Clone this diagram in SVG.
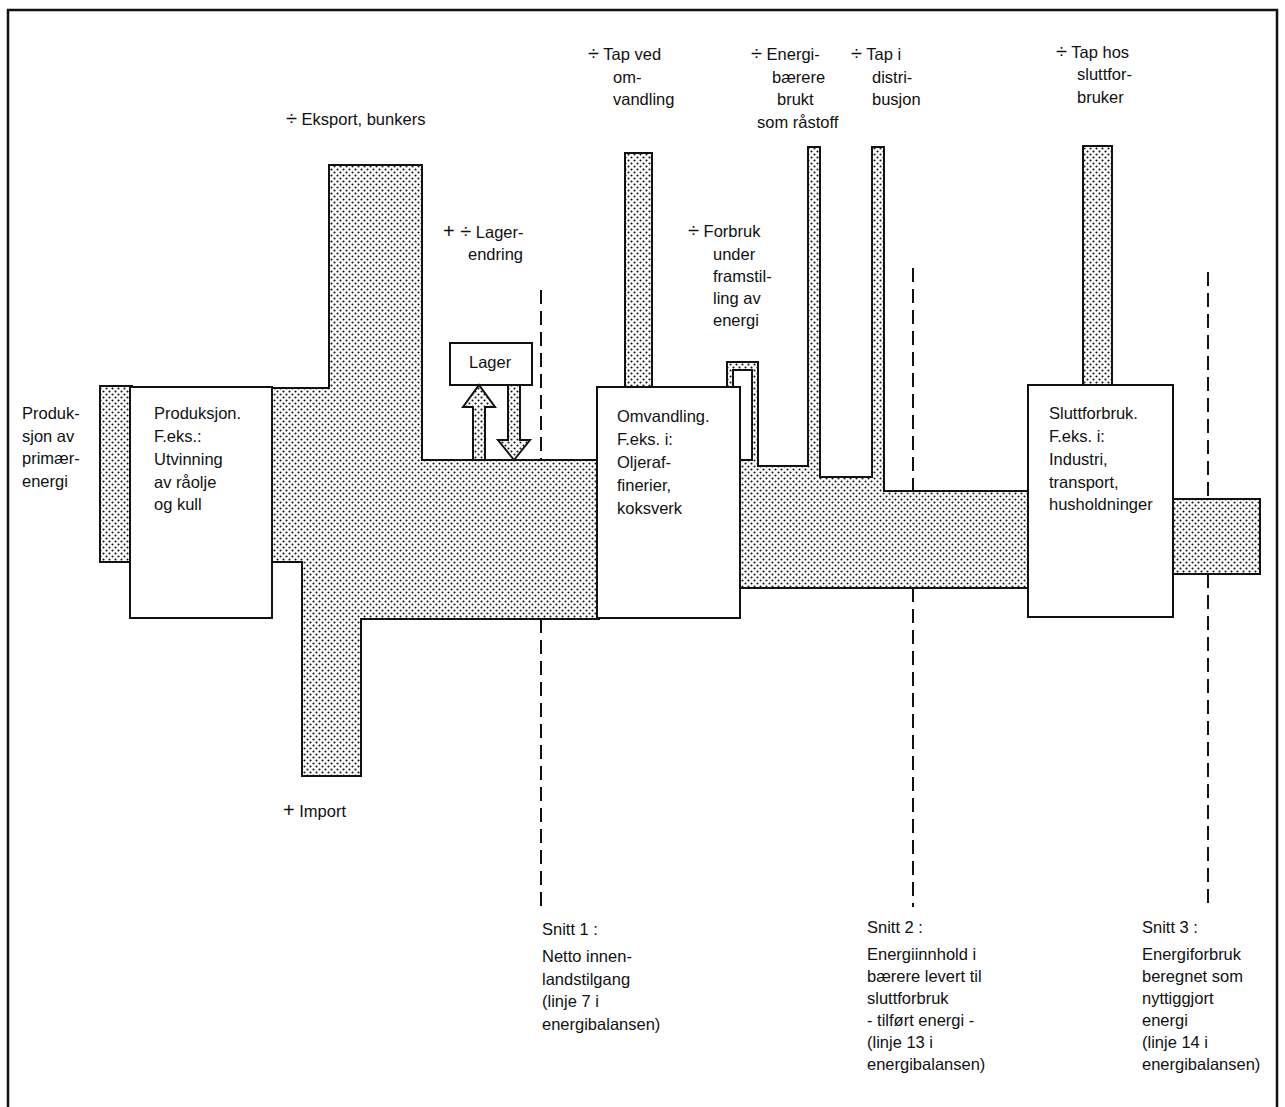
<svg xmlns="http://www.w3.org/2000/svg" width="1285" height="1107" viewBox="0 0 1285 1107">
<defs>
<pattern id="dots" width="6" height="6" patternUnits="userSpaceOnUse">
<rect width="6" height="6" fill="#fff"/>
<circle cx="1.5" cy="1.5" r="1.05" fill="#111"/>
<circle cx="4.5" cy="4.5" r="1.05" fill="#111"/>
</pattern>
</defs>
<style>
.flow{fill:url(#dots);stroke:#111;stroke-width:2;stroke-linejoin:miter}
.box{fill:#fff;stroke:#111;stroke-width:2}
.cut{stroke:#111;stroke-width:2;stroke-dasharray:14 7;fill:none}
.frame{fill:none;stroke:#111;stroke-width:2.5}
text{font-family:"Liberation Sans",Arial,sans-serif;font-size:16.5px;fill:#111}
.op{font-size:20px}
</style>
<rect width="1285" height="1107" fill="#fff"/>
<path class="frame" d="M8,1107 V10 H1277 V1107"/>

<g id="cuts">
<line class="cut" x1="541" y1="290" x2="541" y2="460"/>
<line class="cut" x1="541" y1="619" x2="541" y2="907"/>
<line class="cut" x1="913" y1="268" x2="913" y2="491"/>
<line class="cut" x1="913" y1="588" x2="913" y2="907"/>
<line class="cut" x1="1208" y1="272" x2="1208" y2="499"/>
<line class="cut" x1="1208" y1="574" x2="1208" y2="907"/>
</g>

<g id="flows">
<rect class="flow" x="100" y="386" width="32" height="176"/>
<polygon class="flow" points="270,388 329,388 329,165 422,165 422,460 599,460 599,619 361,619 361,776 302,776 302,562 270,562"/>
<rect class="flow" x="625" y="153" width="27" height="236"/>
<polygon class="flow" points="738,460 752,460 752,370 733,370 733,389 727,389 727,362 758,362 758,466 808,466 808,147 820,147 820,477 872,477 872,147 884,147 884,491 1030,491 1030,588 738,588"/>
<rect class="flow" x="1083" y="146" width="29" height="241"/>
<rect class="flow" x="1171" y="499" width="89" height="75"/>
</g>

<g id="production">
<rect class="box" x="130" y="387" width="142" height="231"/>
<text x="154" y="419">Produksjon.</text>
<text x="154" y="442">F.eks.:</text>
<text x="154" y="465">Utvinning</text>
<text x="154" y="488">av råolje</text>
<text x="154" y="510">og kull</text>
</g>

<g id="storage">
<rect class="box" x="450" y="343" width="82" height="42"/>
<text x="469" y="368">Lager</text>
</g>

<g id="conversion">
<rect class="box" x="597" y="387" width="143" height="231"/>
<text x="617" y="422">Omvandling.</text>
<text x="617" y="445">F.eks. i:</text>
<text x="617" y="468">Oljeraf-</text>
<text x="617" y="491">finerier,</text>
<text x="617" y="514">koksverk</text>
</g>

<g id="final-use">
<rect class="box" x="1028" y="385" width="145" height="232"/>
<text x="1049" y="419">Sluttforbruk.</text>
<text x="1049" y="442">F.eks. i:</text>
<text x="1049" y="465">Industri,</text>
<text x="1049" y="488">transport,</text>
<text x="1049" y="510">husholdninger</text>
</g>

<g id="connectors">
<polygon class="flow" points="473,460 473,407 463,407 479,385 495,407 485,407 485,460"/>
<polygon class="flow" points="508,385 520,385 520,440 530,440 514,460 498,440 508,440"/>
</g>

<g id="labels">
<text x="22" y="419">Produk-</text>
<text x="22" y="442">sjon av</text>
<text x="22" y="464">primær-</text>
<text x="22" y="487">energi</text>

<text x="286" y="125"><tspan class="op">÷</tspan> Eksport, bunkers</text>

<text x="443" y="238"><tspan class="op">+ ÷</tspan> Lager-</text>
<text x="468" y="260">endring</text>

<text x="283" y="817"><tspan class="op">+</tspan> Import</text>

<text x="588" y="60"><tspan class="op">÷</tspan> Tap  ved</text>
<text x="613" y="83">om-</text>
<text x="613" y="105">vandling</text>

<text x="751" y="60"><tspan class="op">÷</tspan> Energi-</text>
<text x="772" y="83">bærere</text>
<text x="777" y="105">brukt</text>
<text x="757" y="128">som råstoff</text>

<text x="851" y="60"><tspan class="op">÷</tspan> Tap i</text>
<text x="872" y="83">distri-</text>
<text x="872" y="105">busjon</text>

<text x="1056" y="58"><tspan class="op">÷</tspan> Tap hos</text>
<text x="1077" y="80">sluttfor-</text>
<text x="1077" y="103">bruker</text>

<text x="688" y="237"><tspan class="op">÷</tspan> Forbruk</text>
<text x="713" y="260">under</text>
<text x="713" y="282">framstil-</text>
<text x="713" y="304">ling av</text>
<text x="713" y="326">energi</text>

<text x="542" y="935">Snitt 1 :</text>
<text x="542" y="962">Netto innen-</text>
<text x="542" y="985">landstilgang</text>
<text x="542" y="1007">(linje 7 i</text>
<text x="542" y="1030">energibalansen)</text>

<text x="867" y="933">Snitt 2 :</text>
<text x="867" y="960">Energiinnhold i</text>
<text x="867" y="982">bærere levert til</text>
<text x="867" y="1004">sluttforbruk</text>
<text x="867" y="1026">- tilført energi -</text>
<text x="867" y="1048">(linje 13 i</text>
<text x="867" y="1070">energibalansen)</text>

<text x="1142" y="933">Snitt 3 :</text>
<text x="1142" y="960">Energiforbruk</text>
<text x="1142" y="982">beregnet som</text>
<text x="1142" y="1004">nyttiggjort</text>
<text x="1142" y="1026">energi</text>
<text x="1142" y="1048">(linje 14 i</text>
<text x="1142" y="1070">energibalansen)</text>
</g>
</svg>
